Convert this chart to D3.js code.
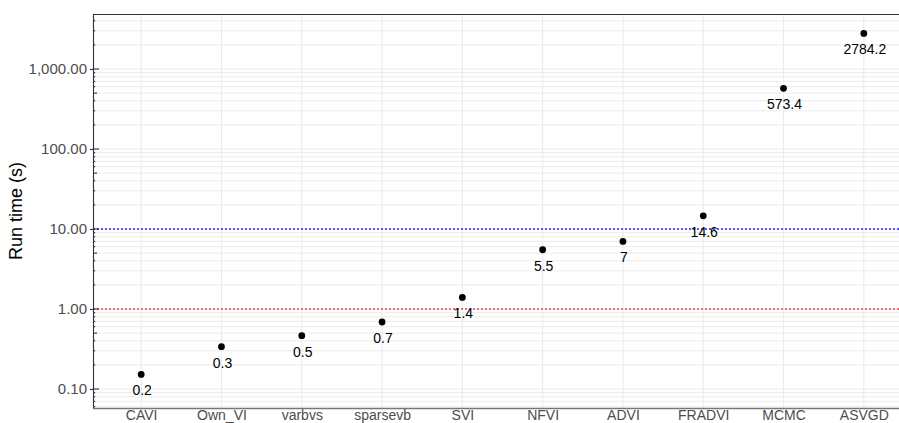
<!DOCTYPE html>
<html>
<head>
<meta charset="utf-8">
<script src="https://cdn.jsdelivr.net/npm/d3@7"></script>
<style>
  html, body { margin: 0; padding: 0; background: #fff; }
  svg { display: block; font-family: "Liberation Sans", Arial, Helvetica, sans-serif; }
</style>
</head>
<body>
<svg id="chart" width="899" height="423"></svg>
<script>
// Run time per inference method (seconds)
const methods = ["CAVI", "Own_VI", "varbvs", "sparsevb", "SVI", "NFVI", "ADVI", "FRADVI", "MCMC", "ASVGD"];
const runTimes = [0.152, 0.338, 0.464, 0.688, 1.396, 5.5, 7.0, 14.6, 573.4, 2784.2];
const yTickValues = [0.1, 1, 10, 100, 1000];
const refLines = [
  { value: 10, color: "#2323f0" },
  { value: 1, color: "#e34848" }
];

const svg = d3.select("#chart");
const panel = { left: 93, right: 912, top: 14, bottom: 408 };

const x = d3.scalePoint()
  .domain(methods)
  .range([panel.left, panel.right])
  .padding(0.6);

const y = d3.scaleLog()
  .domain([Math.pow(10, -1.2375), Math.pow(10, 3.6875)])
  .range([panel.bottom, panel.top]);

const [yMin, yMax] = y.domain();

// log-scale grid values: 1..9 x 10^k inside the domain
const gridVals = [];
for (let k = -2; k <= 3; k++) {
  for (let m = 1; m <= 9; m++) {
    const v = m * Math.pow(10, k);
    if (v >= yMin && v <= yMax) gridVals.push(v);
  }
}

const grid = svg.append("g").attr("class", "grid");
grid.selectAll("line.h")
  .data(gridVals)
  .join("line")
  .attr("class", "h")
  .attr("x1", panel.left).attr("x2", panel.right)
  .attr("y1", d => y(d)).attr("y2", d => y(d))
  .attr("stroke", "#ebebeb")
  .attr("stroke-width", d => yTickValues.includes(d) ? 1.2 : 1);

grid.selectAll("line.v")
  .data(methods)
  .join("line")
  .attr("class", "v")
  .attr("x1", d => x(d)).attr("x2", d => x(d))
  .attr("y1", panel.top).attr("y2", panel.bottom)
  .attr("stroke", "#ebebeb")
  .attr("stroke-width", 1.1);

// reference thresholds
svg.append("g").selectAll("line")
  .data(refLines)
  .join("line")
  .attr("x1", panel.left).attr("x2", panel.right)
  .attr("y1", d => y(d.value)).attr("y2", d => y(d.value))
  .attr("stroke", d => d.color)
  .attr("stroke-width", 1.3)
  .attr("stroke-dasharray", "2,2");

// panel frame: top border
svg.append("line")
  .attr("x1", panel.left).attr("x2", panel.right)
  .attr("y1", panel.top + 0.5).attr("y2", panel.top + 0.5)
  .attr("stroke", "#333").attr("stroke-width", 1.1);

// y axis
const yAxis = d3.axisLeft(y)
  .tickValues(yTickValues)
  .tickFormat(d3.format(",.2f"))
  .tickSize(3)
  .tickPadding(3);

const yAxisG = svg.append("g")
  .attr("transform", `translate(${panel.left},0)`)
  .call(yAxis);
yAxisG.select(".domain").remove();
yAxisG.selectAll(".tick line").attr("stroke", "#333").attr("stroke-width", 1.1);
yAxisG.selectAll(".tick text")
  .attr("fill", "#4d4d4d")
  .style("font-size", "15px")
  .style("font-family", "\"Liberation Sans\", Arial, sans-serif");

// log ticks drawn inside the panel along the left edge
svg.append("g").selectAll("line")
  .data(gridVals)
  .join("line")
  .attr("x1", panel.left)
  .attr("x2", d => {
    const m = Math.round(d / Math.pow(10, Math.floor(Math.log10(d) + 1e-9)));
    return panel.left + (m === 1 ? 6 : m === 5 ? 4 : 2.2);
  })
  .attr("y1", d => y(d)).attr("y2", d => y(d))
  .attr("stroke", "#222")
  .attr("stroke-width", 1);

svg.append("line")
  .attr("x1", panel.left + 0.5).attr("x2", panel.left + 0.5)
  .attr("y1", panel.top).attr("y2", panel.bottom)
  .attr("stroke", "#333").attr("stroke-width", 1.1);

// x axis
const xAxis = d3.axisBottom(x).tickSize(0).tickPadding(0);
const xAxisG = svg.append("g")
  .attr("transform", `translate(0,${panel.bottom})`)
  .call(xAxis);
xAxisG.select(".domain")
  .attr("stroke", "#777")
  .attr("stroke-width", 1.4)
  .attr("d", `M${panel.left},0.5H${panel.right}`);
xAxisG.selectAll(".tick text")
  .attr("fill", "#4d4d4d")
  .attr("y", 12)
  .attr("dy", null)
  .style("dominant-baseline", "alphabetic")
  .style("font-size", "14px")
  .style("font-family", "\"Liberation Sans\", Arial, sans-serif");

// y axis title
svg.append("text")
  .attr("transform", `translate(22,${(panel.top + panel.bottom) / 2}) rotate(-90)`)
  .attr("text-anchor", "middle")
  .attr("fill", "#000")
  .style("font-size", "18px")
  .text("Run time (s)");

// points and value labels
const rows = methods.map((m, i) => ({ method: m, value: runTimes[i] }));
const labelFmt = d3.format(".1~f");

svg.append("g").selectAll("circle")
  .data(rows)
  .join("circle")
  .attr("cx", d => x(d.method))
  .attr("cy", d => y(d.value))
  .attr("r", 3.4)
  .attr("fill", "#000");

svg.append("g").selectAll("text")
  .data(rows)
  .join("text")
  .attr("x", d => x(d.method) + 1)
  .attr("y", d => y(d.value) + 21)
  .attr("text-anchor", "middle")
  .attr("fill", "#000")
  .style("font-size", "14px")
  .text(d => labelFmt(d.value));
</script>
</body>
</html>
